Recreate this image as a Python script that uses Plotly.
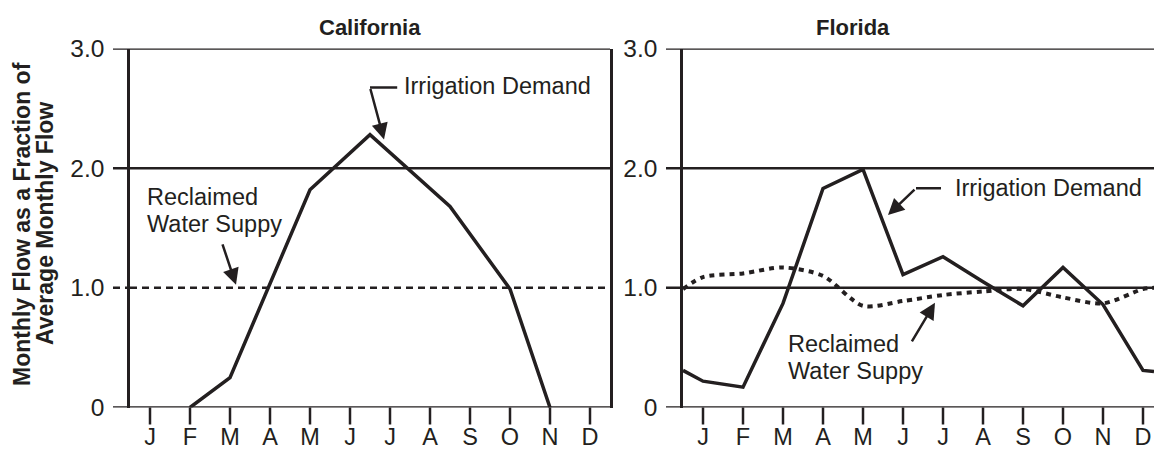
import plotly.graph_objects as go

# Month labels and positions (1 = Jan ... 12 = Dec)
months = ["J", "F", "M", "A", "M", "J", "J", "A", "S", "O", "N", "D"]
month_pos = list(range(1, 13))

# California irrigation demand (vertices fall between some months)
ca_demand_x = [2, 3, 5, 6.5, 8.5, 10, 11]
ca_demand_y = [0.0, 0.25, 1.82, 2.28, 1.68, 0.99, 0.0]
# California reclaimed water supply: flat all year
ca_supply = [1.0] * 12

# Florida irrigation demand, monthly, plus the values at the panel edges
fl_demand = [0.22, 0.17, 0.87, 1.83, 1.99, 1.11, 1.26, 1.05, 0.85, 1.17, 0.86, 0.31]
fl_demand_edges = (0.31, 0.30)
# Florida reclaimed water supply, monthly, plus the values at the panel edges
fl_supply = [1.09, 1.12, 1.17, 1.10, 0.85, 0.89, 0.94, 0.97, 0.99, 0.92, 0.87, 0.99]
fl_supply_edges = (0.99, 1.0)

INK = "#231f20"
FONT = "Liberation Sans, Arial, Helvetica, sans-serif"

W, H = 1154, 456
left_px, right_px = (130, 610), (683, 1154)
y_bottom_px, y_top_px = 407.5, 48.5
plot_h = y_bottom_px - y_top_px
ca_range = [0.5, 12.5]
fl_range = [0.5, 0.5 + (right_px[1] - right_px[0]) / 40.0]
y_range = [0, 3]

fig = go.Figure()

def edge_series(rng, values, edges):
    return [rng[0]] + month_pos + [rng[1]], [edges[0]] + values + [edges[1]]

# California
sx, sy = edge_series(ca_range, ca_supply, (ca_supply[0], ca_supply[-1]))
fig.add_trace(go.Scatter(x=sx, y=sy, mode="lines", xaxis="x", yaxis="y",
                         line=dict(color=INK, width=2.5, dash="7px,5px")))
fig.add_trace(go.Scatter(x=ca_demand_x, y=ca_demand_y, mode="lines", xaxis="x", yaxis="y",
                         line=dict(color=INK, width=3.5)))

# Florida
sx, sy = edge_series(fl_range, fl_supply, fl_supply_edges)
fig.add_trace(go.Scatter(x=sx, y=sy, mode="lines", xaxis="x2", yaxis="y2",
                         line=dict(color=INK, width=4, dash="5px,5px", shape="spline", smoothing=0.8)))
dx, dy = edge_series(fl_range, fl_demand, fl_demand_edges)
fig.add_trace(go.Scatter(x=dx, y=dy, mode="lines", xaxis="x2", yaxis="y2",
                         line=dict(color=INK, width=3.5)))

y_dom = [(H - y_bottom_px) / H, (H - y_top_px) / H]
x_dom_l = [left_px[0] / W, left_px[1] / W]
x_dom_r = [right_px[0] / W, 1.0]

# Month tick marks are drawn as shapes below; labels are pushed down past them
xaxis_common = dict(showgrid=False, zeroline=False, showline=False, ticks="",
                    tickvals=month_pos, ticktext=months, ticklabelstandoff=13,
                    tickfont=dict(family=FONT, size=23.5, color=INK),
                    automargin=False, fixedrange=True)
yaxis_common = dict(range=y_range, showgrid=False, zeroline=False, showline=True,
                    linewidth=2.5, linecolor=INK, ticks="", tickvals=[0, 1, 2, 3],
                    ticktext=["0", "1.0", "2.0", "3.0"], ticklabelstandoff=18,
                    tickfont=dict(family=FONT, size=24.5, color=INK),
                    automargin=False, fixedrange=True)

fig.update_layout(
    width=W, height=H, margin=dict(l=0, r=0, t=0, b=0, autoexpand=False),
    paper_bgcolor="white", plot_bgcolor="white", showlegend=False,
    xaxis=dict(domain=x_dom_l, range=ca_range, anchor="y", **xaxis_common),
    yaxis=dict(domain=y_dom, anchor="x", mirror=True, **yaxis_common),
    xaxis2=dict(domain=x_dom_r, range=fl_range, anchor="y2", **xaxis_common),
    yaxis2=dict(domain=y_dom, anchor="x2", **yaxis_common),
)

# Horizontal rules with short stubs to the left of each axis
stub_l = -17 / (left_px[1] - left_px[0])
stub_r = -17 / (right_px[1] - right_px[0])
shapes = []
for v in (0, 2, 3):
    shapes.append(dict(type="line", xref="x domain", yref="y", x0=stub_l, x1=1, y0=v, y1=v,
                       line=dict(color=INK, width=2.5), layer="below"))
shapes.append(dict(type="line", xref="x domain", yref="y", x0=stub_l, x1=0, y0=1, y1=1,
                   line=dict(color=INK, width=2.5, dash="7px,5px"), layer="below"))
for v in (0, 1, 2, 3):
    shapes.append(dict(type="line", xref="x2 domain", yref="y2", x0=stub_r, x1=1, y0=v, y1=v,
                       line=dict(color=INK, width=2.5), layer="below"))
# Month tick marks hanging below the baseline
tick_len = 17 / plot_h
for xr, yr in (("x", "y domain"), ("x2", "y2 domain")):
    for m in month_pos:
        shapes.append(dict(type="line", xref=xr, yref=yr, x0=m, x1=m, y0=0, y1=-tick_len,
                           line=dict(color=INK, width=2.5)))
# Horizontal leader segments of the bent callout arrows
shapes.append(dict(type="line", xref="x", yref="y", x0=6.5, x1=7.18, y0=2.675, y1=2.675,
                   line=dict(color=INK, width=2.5)))
shapes.append(dict(type="line", xref="x2", yref="y2", x0=6.325, x1=6.95, y0=1.833, y1=1.833,
                   line=dict(color=INK, width=2.5)))
fig.update_layout(shapes=shapes)

def text(x, y, s, xref, yref, **kw):
    return dict(x=x, y=y, text=s, xref=xref, yref=yref, showarrow=False,
                font=dict(family=FONT, size=kw.pop("size", 23.5), color=INK), **kw)

def arrow(x, y, ax, ay, xref, yref):
    return dict(x=x, y=y, ax=ax, ay=ay, xref=xref, yref=yref, text="", showarrow=True,
                arrowhead=2, arrowsize=1.3, arrowwidth=2.5, arrowcolor=INK, standoff=0)

annotations = [
    text(sum(x_dom_l) / 2, (H - 27) / H, "<b>California</b>", "paper", "paper", size=22,
         xanchor="center", yanchor="middle"),
    text(853 / W, (H - 27) / H, "<b>Florida</b>", "paper", "paper", size=22,
         xanchor="center", yanchor="middle"),
    text(22 / W, (H - 224) / H, "<b>Monthly Flow as a Fraction of</b>", "paper", "paper",
         size=23, textangle=-90, xanchor="center", yanchor="middle"),
    text(45 / W, (H - 224) / H, "<b>Average Monthly Flow</b>", "paper", "paper",
         size=23, textangle=-90, xanchor="center", yanchor="middle"),
    # California callouts
    text(7.3, 2.69, "Irrigation Demand", "x", "y", xanchor="left", yanchor="middle"),
    arrow(6.85, 2.24, -14, -52, "x", "y"),
    text(0.875, 1.76, "Reclaimed", "x", "y", xanchor="left", yanchor="middle"),
    text(0.875, 1.535, "Water Suppy", "x", "y", xanchor="left", yanchor="middle"),
    arrow(3.15, 1.025, -14, -42, "x", "y"),
    # Florida callouts
    text(7.25, 1.833, "Irrigation Demand", "x2", "y2", xanchor="left", yanchor="middle"),
    arrow(5.625, 1.608, 28, -27, "x2", "y2"),
    text(3.075, 0.53, "Reclaimed", "x2", "y2", xanchor="left", yanchor="middle"),
    text(3.075, 0.305, "Water Suppy", "x2", "y2", xanchor="left", yanchor="middle"),
    arrow(6.8, 0.875, -24, 40, "x2", "y2"),
]
fig.update_layout(annotations=annotations)

fig.write_html("out.html")
